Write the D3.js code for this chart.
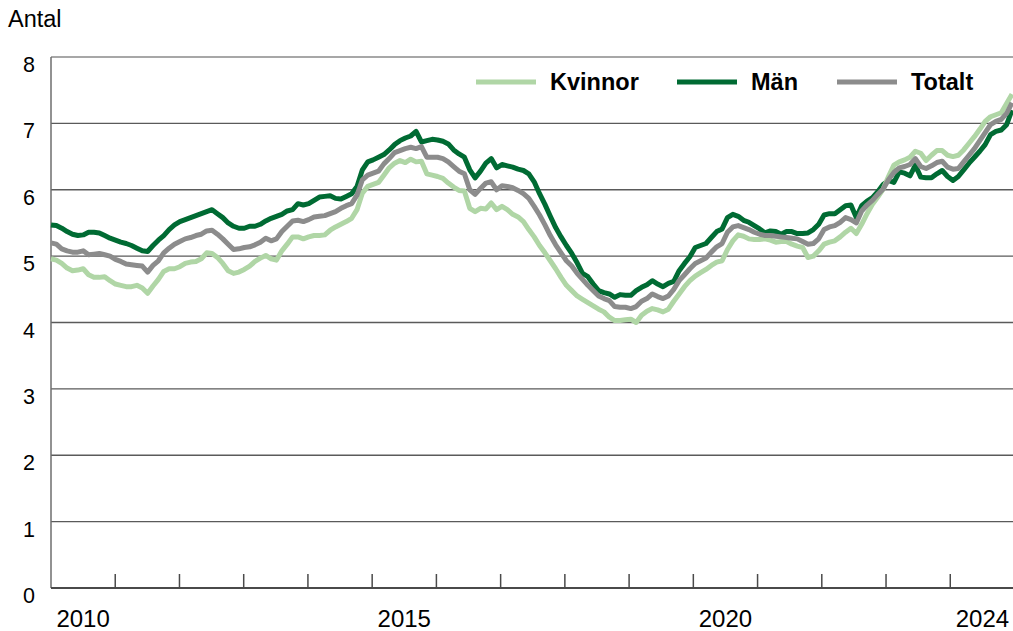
<!DOCTYPE html>
<html>
<head>
<meta charset="utf-8">
<script src="https://cdn.jsdelivr.net/npm/d3@7"></script>
<style>
  html, body { margin: 0; padding: 0; background: #fff; }
  svg { display: block; font-family: "Liberation Sans", Arial, sans-serif; }
</style>
</head>
<body>
<svg id="chart" width="1013" height="631"></svg>
<script>
// Monthly values Jan 2010 – Dec 2024
const kvinnor = [
  4.96,4.94,4.89,4.82,4.78,4.79,4.81,4.72,4.68,4.68,4.69,4.63,
  4.58,4.56,4.54,4.54,4.56,4.52,4.44,4.55,4.65,4.77,4.81,4.81,
  4.84,4.89,4.91,4.92,4.96,5.05,5.04,4.98,4.89,4.78,4.74,4.76,
  4.80,4.85,4.92,4.97,5.01,4.96,4.94,5.08,5.18,5.29,5.29,5.26,
  5.29,5.31,5.31,5.32,5.39,5.44,5.48,5.52,5.57,5.70,5.95,6.05,
  6.08,6.11,6.22,6.33,6.40,6.44,6.41,6.46,6.42,6.43,6.24,6.22,
  6.20,6.17,6.10,6.04,5.99,5.98,5.72,5.67,5.72,5.71,5.80,5.70,
  5.75,5.70,5.63,5.59,5.52,5.40,5.29,5.16,5.05,4.93,4.81,4.68,
  4.56,4.48,4.40,4.35,4.30,4.25,4.20,4.16,4.08,4.03,4.03,4.04,
  4.05,4.00,4.11,4.17,4.21,4.19,4.16,4.20,4.32,4.43,4.54,4.63,
  4.70,4.75,4.80,4.86,4.91,4.93,5.10,5.23,5.32,5.30,5.26,5.25,
  5.25,5.26,5.24,5.21,5.22,5.22,5.18,5.15,5.13,4.98,5.00,5.08,
  5.18,5.21,5.23,5.29,5.36,5.42,5.34,5.48,5.64,5.78,5.89,6.01,
  6.20,6.37,6.42,6.45,6.49,6.58,6.55,6.44,6.52,6.59,6.59,6.52,
  6.50,6.52,6.60,6.70,6.80,6.91,7.03,7.10,7.13,7.16,7.30,7.44
];
const man = [
  5.47,5.46,5.42,5.37,5.33,5.31,5.32,5.36,5.36,5.35,5.31,5.27,
  5.24,5.21,5.19,5.16,5.12,5.08,5.07,5.16,5.24,5.31,5.40,5.47,
  5.52,5.55,5.58,5.61,5.64,5.67,5.70,5.64,5.58,5.50,5.45,5.42,
  5.42,5.45,5.45,5.48,5.53,5.57,5.60,5.63,5.68,5.70,5.79,5.77,
  5.79,5.84,5.89,5.90,5.91,5.87,5.86,5.90,5.94,6.05,6.30,6.42,
  6.45,6.49,6.53,6.60,6.68,6.74,6.78,6.81,6.88,6.72,6.74,6.76,
  6.75,6.73,6.69,6.60,6.54,6.49,6.30,6.18,6.28,6.40,6.47,6.33,
  6.38,6.36,6.34,6.31,6.29,6.24,6.12,5.94,5.78,5.60,5.43,5.29,
  5.16,5.04,4.90,4.74,4.69,4.58,4.48,4.45,4.43,4.38,4.42,4.41,
  4.41,4.48,4.53,4.57,4.63,4.58,4.54,4.59,4.62,4.78,4.89,4.99,
  5.13,5.16,5.19,5.28,5.37,5.41,5.58,5.63,5.60,5.54,5.51,5.46,
  5.41,5.35,5.38,5.37,5.33,5.37,5.37,5.34,5.34,5.35,5.40,5.48,
  5.62,5.64,5.64,5.70,5.76,5.77,5.58,5.76,5.83,5.88,5.97,6.08,
  6.14,6.11,6.27,6.25,6.21,6.37,6.19,6.18,6.18,6.24,6.29,6.20,
  6.14,6.20,6.30,6.40,6.49,6.58,6.68,6.83,6.88,6.90,6.98,7.20
];
const totalt = [
  5.20,5.18,5.11,5.08,5.06,5.06,5.08,5.02,5.03,5.04,5.02,5.00,
  4.95,4.92,4.88,4.87,4.86,4.85,4.76,4.86,4.93,5.05,5.12,5.18,
  5.22,5.26,5.28,5.31,5.33,5.38,5.39,5.33,5.26,5.18,5.10,5.11,
  5.13,5.14,5.17,5.21,5.27,5.23,5.26,5.37,5.45,5.53,5.54,5.52,
  5.55,5.59,5.60,5.61,5.64,5.67,5.72,5.76,5.79,5.92,6.15,6.22,
  6.25,6.28,6.39,6.47,6.56,6.59,6.62,6.64,6.62,6.65,6.49,6.49,
  6.49,6.47,6.42,6.35,6.28,6.24,6.00,5.93,6.02,6.10,6.12,6.00,
  6.06,6.05,6.03,5.99,5.94,5.87,5.75,5.62,5.47,5.31,5.17,5.05,
  4.93,4.85,4.74,4.65,4.56,4.48,4.40,4.36,4.33,4.24,4.23,4.23,
  4.21,4.24,4.32,4.36,4.43,4.39,4.36,4.40,4.50,4.63,4.72,4.81,
  4.89,4.93,4.97,5.06,5.14,5.19,5.36,5.44,5.46,5.43,5.40,5.36,
  5.33,5.31,5.31,5.30,5.29,5.28,5.27,5.26,5.22,5.18,5.19,5.26,
  5.40,5.44,5.46,5.51,5.58,5.55,5.50,5.68,5.77,5.84,5.93,6.01,
  6.15,6.26,6.33,6.35,6.38,6.47,6.35,6.32,6.36,6.41,6.43,6.34,
  6.31,6.32,6.42,6.52,6.62,6.74,6.86,6.98,7.03,7.06,7.15,7.31
];
const yTicks = [0,1,2,3,4,5,6,7,8];
const yearLabels = [2010, 2015, 2020, 2024];
const legendNames = ["Kvinnor", "Män", "Totalt"];

const colors = { "Kvinnor": "#b0d6a6", "Män": "#006b33", "Totalt": "#8c8c8c" };
const seriesData = { "Kvinnor": kvinnor, "Män": man, "Totalt": totalt };

const svg = d3.select("#chart");
const plotLeft = 51, plotRight = 1014.5, plotTop = 57, plotBottom = 588;

const y = d3.scaleLinear().domain([0, 8]).range([plotBottom, plotTop]);
const xYear = d3.scaleLinear().domain([2010, 2025]).range([plotLeft, plotRight]);
const xMonth = d3.scaleLinear().domain([0, kvinnor.length - 1]).range([plotLeft, 1012]);

// Gridlines
svg.append("g").selectAll("line").data(yTicks.filter(v => v > 0)).join("line")
  .attr("x1", plotLeft).attr("x2", 1013)
  .attr("y1", d => y(d)).attr("y2", d => y(d))
  .attr("stroke", d => d === 8 ? "#8a8a8a" : "#5a5a5a")
  .attr("stroke-width", 1.3);

// Left axis line
svg.append("line").attr("x1", plotLeft).attr("x2", plotLeft).attr("y1", plotTop).attr("y2", plotBottom)
  .attr("stroke", "#6e6e6e").attr("stroke-width", 1.5);

// Y labels
svg.append("g").selectAll("text").data(yTicks).join("text")
  .attr("x", 35).attr("y", d => y(d) + 15)
  .attr("text-anchor", "end").attr("font-size", 21.5).attr("fill", "#000")
  .text(d => d);

svg.append("text").attr("x", 8).attr("y", 27).attr("font-size", 23.5).attr("fill", "#000").text("Antal");

// Lines
const line = d3.line().x((d, i) => xMonth(i)).y(d => y(d)).curve(d3.curveLinear);
["Män", "Kvinnor", "Totalt"].forEach(name => {
  svg.append("path").datum(seriesData[name])
    .attr("fill", "none").attr("stroke", colors[name])
    .attr("stroke-width", 5).attr("stroke-linejoin", "round")
    .attr("d", line);
});

// Bottom axis
svg.append("line").attr("x1", plotLeft).attr("x2", 1013).attr("y1", plotBottom).attr("y2", plotBottom)
  .attr("stroke", "#4a4a4a").attr("stroke-width", 2);
const tickYears = d3.range(2011, 2025);
svg.append("g").selectAll("line").data(tickYears).join("line")
  .attr("x1", d => xYear(d)).attr("x2", d => xYear(d))
  .attr("y1", plotBottom).attr("y2", plotBottom - 14)
  .attr("stroke", "#4a4a4a").attr("stroke-width", 1.5);
svg.append("g").selectAll("text").data(yearLabels).join("text")
  .attr("x", d => xYear(d + 0.5)).attr("y", 627)
  .attr("text-anchor", "middle").attr("font-size", 24).attr("fill", "#000")
  .text(d => d);

// Legend
const legendX = [476, 677, 837];
legendNames.forEach((name, i) => {
  svg.append("line").attr("x1", legendX[i]).attr("x2", legendX[i] + 60)
    .attr("y1", 82).attr("y2", 82)
    .attr("stroke", colors[name]).attr("stroke-width", 5);
  svg.append("text").attr("x", legendX[i] + 74).attr("y", 90)
    .attr("font-size", 23.5).attr("font-weight", "bold").attr("fill", "#000")
    .text(name);
});
</script>
</body>
</html>
